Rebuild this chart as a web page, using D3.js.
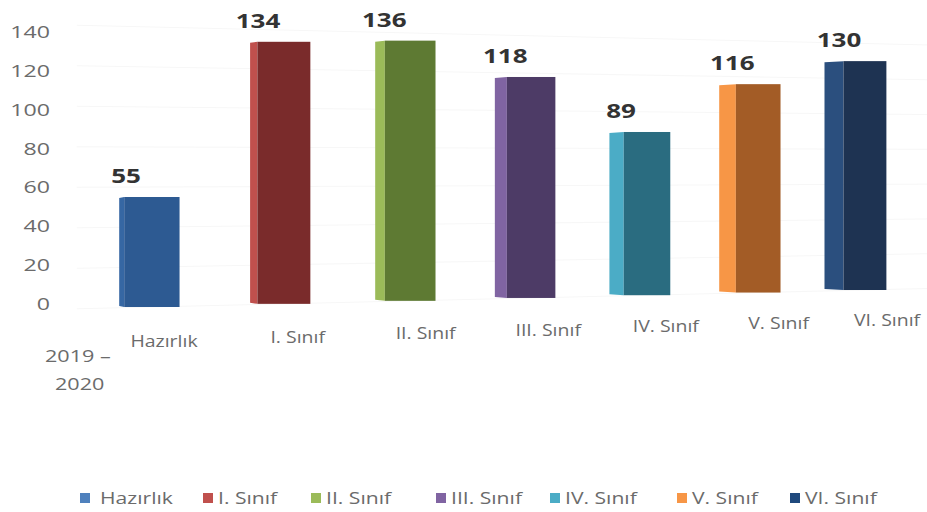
<!DOCTYPE html>
<html>
<head>
<meta charset="utf-8">
<script src="https://cdn.jsdelivr.net/npm/d3@7"></script>
<style>
  html, body { margin: 0; padding: 0; background: #ffffff; }
  svg { display: block; }
</style>
</head>
<body>
<svg id="chart" width="927" height="512"></svg>
<script>
// ---- data ----
const categories = ["Hazırlık", "I. Sınıf", "II. Sınıf", "III. Sınıf", "IV. Sınıf", "V. Sınıf", "VI. Sınıf"];
const values = [55, 134, 136, 118, 89, 116, 130];
const yTicks = [0, 20, 40, 60, 80, 100, 120, 140];
const yearLabel = ["2019 –", "2020"];
const frontColors = ["#2d5a92", "#7a2b2b", "#5e7a33", "#4d3b66", "#2a6c80", "#a35c26", "#1e3352"];
const sideColors  = ["#3667a3", "#c0504d", "#9bbb59", "#8064a2", "#4bacc6", "#f79646", "#2b4f7e"];
const legendColors = ["#4f81bd", "#c0504d", "#9bbb59", "#8064a2", "#4bacc6", "#f79646", "#1f497d"];

// ---- perspective helpers built on d3 scales ----
const svg = d3.select("#chart");
const FONT = "'Open Sans', sans-serif";
const idx = d3.scaleLinear().domain([0, categories.length - 1]).range([0, 6]);
const depth = d3.scaleLinear().domain([0, 6]).range([1, 1.136]);       // perspective divisor
const xWorld = d3.scaleLinear().domain([0, 1]).range([0, 135]);         // world x per category step
const yWorld = d3.scaleLinear().domain([0, 140]).range([142, -138]);    // world y relative to horizon
const horizon = 165, xOrigin = 152;
const px = u => xOrigin + xWorld(u) / depth(u);
const py = (u, v) => horizon + yWorld(v) / depth(u);
const sideW = d3.scaleLinear().domain([0, 6]).range([5, 19]);
const halfFront = 0.205;

// stretched text helper (reference text is horizontally widened)
function stext(g, x, y, str, opts) {
  return g.append("text")
    .attr("transform", `translate(${x},${y}) scale(${opts.sx || 1},1)`)
    .attr("text-anchor", opts.anchor || "start")
    .attr("font-family", FONT)
    .attr("font-weight", opts.weight || "normal")
    .attr("font-size", opts.size)
    .attr("fill", opts.fill || "#6b6b6b")
    .text(str);
}

// faint gridlines
const grid = svg.append("g");
yTicks.forEach(t => {
  grid.append("line")
    .attr("x1", px(-0.55)).attr("y1", py(-0.55, t))
    .attr("x2", px(6.7)).attr("y2", py(6.7, t))
    .attr("stroke", "#f7f7f7").attr("stroke-width", 1);
});

// y axis labels
const yAxisScale = d3.scaleLinear().domain([0, 140]).range([304, 32]);
const yg = svg.append("g");
yTicks.forEach(t => {
  stext(yg, 50, yAxisScale(t) + 6, t, { size: 16, sx: 1.45, anchor: "end" });
});

// bars
const bars = svg.append("g");
const labels = svg.append("g");
values.forEach((v, i) => {
  const u = idx(i);
  const xl = px(u - halfFront), xr = px(u + halfFront);
  const yb = py(u, 0), yt = py(u, v);
  const sw = sideW(u);
  bars.append("polygon")
    .attr("points", [[xl - sw, yt + 1], [xl, yt], [xl, yb], [xl - sw, yb - 1]].map(p => p.join(",")).join(" "))
    .attr("fill", sideColors[i]);
  bars.append("rect")
    .attr("x", xl).attr("y", yt)
    .attr("width", xr - xl).attr("height", yb - yt)
    .attr("fill", frontColors[i]);
  stext(labels, px(u) - 26, yt - 14, v, { size: 20, sx: 1.3, anchor: "middle", weight: "bold", fill: "#333333" });
});

// category labels
const labOff = d3.scaleLinear().domain([0, 6]).range([12, 22]);
categories.forEach((c, i) => {
  const u = idx(i);
  stext(svg, px(u) + labOff(u), py(u, -17) + 6, c, { size: 16.5, sx: 1.18, anchor: "middle" });
});

// year label
yearLabel.forEach((t, i) => {
  stext(svg, i === 0 ? 45 : 55, 362 + i * 28, t, { size: 16, sx: 1.35 });
});

// legend
const legendX = [80, 203, 311, 436, 550, 677, 790];
const lg = svg.append("g");
categories.forEach((c, i) => {
  lg.append("rect")
    .attr("x", legendX[i]).attr("y", 493)
    .attr("width", 10).attr("height", 10)
    .attr("fill", legendColors[i]);
  stext(lg, legendX[i] + (i === 0 ? 20 : 15), 504, c, { size: 16.5, sx: 1.28 });
});
</script>
</body>
</html>
